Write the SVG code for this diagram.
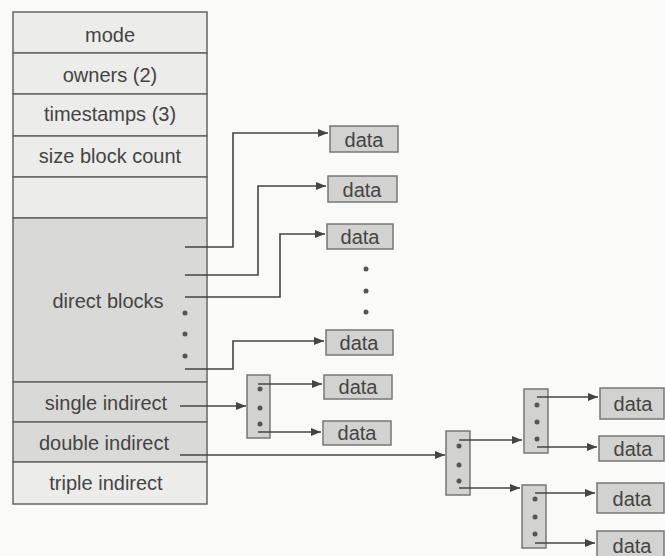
<svg xmlns="http://www.w3.org/2000/svg" width="665" height="556" viewBox="0 0 665 556">
<defs>
<marker id="arr" viewBox="0 0 10 8" refX="10" refY="4" markerWidth="10" markerHeight="8" markerUnits="userSpaceOnUse" orient="auto">
<path d="M0,0 L10,4 L0,8 Z" fill="#444"/>
</marker>
<style>
.row{stroke:#666;stroke-width:1.5}
.light{fill:#ececea}
.dark{fill:#d9d9d7}
.lbl{font-family:"Liberation Sans",Arial,sans-serif;font-size:20px;fill:#444;text-anchor:middle}
.box{fill:#d2d2d0;stroke:#777;stroke-width:1.5}
.idx{fill:#d2d2d0;stroke:#777;stroke-width:1.5}
.dot{fill:#555}
.con{fill:none;stroke:#444;stroke-width:1.6}
</style>
</defs>
<rect width="665" height="556" fill="#fafaf8"/>

<g id="inode">
<rect class="row light" x="13" y="12" width="194" height="41"/>
<text class="lbl" x="110" y="42">mode</text>
<rect class="row light" x="13" y="53" width="194" height="41"/>
<text class="lbl" x="110" y="82">owners (2)</text>
<rect class="row light" x="13" y="94" width="194" height="42"/>
<text class="lbl" x="110" y="121">timestamps (3)</text>
<rect class="row light" x="13" y="136" width="194" height="41"/>
<text class="lbl" x="110" y="163">size block count</text>
<rect class="row light" x="13" y="177" width="194" height="41"/>
<rect class="row dark" x="13" y="218" width="194" height="164"/>
<text class="lbl" x="108" y="308">direct blocks</text>
<circle class="dot" cx="185" cy="313" r="2.5"/>
<circle class="dot" cx="185" cy="334" r="2.5"/>
<circle class="dot" cx="185" cy="356" r="2.5"/>
<rect class="row dark" x="13" y="382" width="194" height="40"/>
<text class="lbl" x="106" y="410">single indirect</text>
<rect class="row dark" x="13" y="422" width="194" height="40"/>
<text class="lbl" x="104" y="450">double indirect</text>
<rect class="row light" x="13" y="462" width="194" height="42"/>
<text class="lbl" x="106" y="490">triple indirect</text>
</g>

<g id="data1"><rect class="box" x="330" y="126" width="68" height="26"/><text class="lbl" x="364" y="147">data</text></g>
<g id="data2"><rect class="box" x="328" y="176" width="69" height="26"/><text class="lbl" x="362" y="197">data</text></g>
<g id="data3"><rect class="box" x="327" y="224" width="66" height="25"/><text class="lbl" x="360" y="244">data</text></g>
<g id="gapdots">
<circle class="dot" cx="366" cy="269" r="2.5"/>
<circle class="dot" cx="366" cy="291" r="2.5"/>
<circle class="dot" cx="366" cy="312" r="2.5"/>
</g>
<g id="data4"><rect class="box" x="326" y="330" width="67" height="25"/><text class="lbl" x="359" y="350">data</text></g>

<g id="single-idx">
<rect class="idx" x="247" y="375" width="23" height="63"/>
<circle class="dot" cx="260" cy="389" r="2.5"/>
<circle class="dot" cx="260" cy="408" r="2.5"/>
<circle class="dot" cx="260" cy="424" r="2.5"/>
</g>
<g id="data5"><rect class="box" x="324" y="375" width="68" height="24"/><text class="lbl" x="358" y="394">data</text></g>
<g id="data6"><rect class="box" x="323" y="421" width="68" height="24"/><text class="lbl" x="357" y="440">data</text></g>

<g id="double-idx">
<rect class="idx" x="446" y="431" width="24" height="64"/>
<circle class="dot" cx="459" cy="446" r="2.5"/>
<circle class="dot" cx="459" cy="465" r="2.5"/>
<circle class="dot" cx="459" cy="481" r="2.5"/>
</g>
<g id="l2-upper">
<rect class="idx" x="524" y="389" width="24" height="64"/>
<circle class="dot" cx="537" cy="405" r="2.5"/>
<circle class="dot" cx="537" cy="422" r="2.5"/>
<circle class="dot" cx="537" cy="439" r="2.5"/>
</g>
<g id="l2-lower">
<rect class="idx" x="522" y="485" width="24" height="63"/>
<circle class="dot" cx="535" cy="499" r="2.5"/>
<circle class="dot" cx="535" cy="517" r="2.5"/>
<circle class="dot" cx="535" cy="534" r="2.5"/>
</g>
<g id="data7"><rect class="box" x="600" y="388" width="64" height="31"/><text class="lbl" x="633" y="411">data</text></g>
<g id="data8"><rect class="box" x="599" y="436" width="65" height="25"/><text class="lbl" x="633" y="456">data</text></g>
<g id="data9"><rect class="box" x="597" y="483" width="67" height="30"/><text class="lbl" x="632" y="506">data</text></g>
<g id="data10"><rect class="box" x="597" y="531" width="67" height="28"/><text class="lbl" x="632" y="553">data</text></g>

<g id="connectors">
<path class="con" d="M185,247 H233 V133 H328" marker-end="url(#arr)"/>
<path class="con" d="M185,275 H258 V186 H326" marker-end="url(#arr)"/>
<path class="con" d="M185,297 H280 V234 H325" marker-end="url(#arr)"/>
<path class="con" d="M185,369 H233 V341 H324" marker-end="url(#arr)"/>
<path class="con" d="M180,406 H246" marker-end="url(#arr)"/>
<path class="con" d="M258,384 H322" marker-end="url(#arr)"/>
<path class="con" d="M258,432 H321" marker-end="url(#arr)"/>
<path class="con" d="M180,455 H445" marker-end="url(#arr)"/>
<path class="con" d="M459,440 H522" marker-end="url(#arr)"/>
<path class="con" d="M459,488 H520" marker-end="url(#arr)"/>
<path class="con" d="M537,397 H598" marker-end="url(#arr)"/>
<path class="con" d="M537,447 H597" marker-end="url(#arr)"/>
<path class="con" d="M535,493 H595" marker-end="url(#arr)"/>
<path class="con" d="M535,543 H595" marker-end="url(#arr)"/>
</g>
</svg>
